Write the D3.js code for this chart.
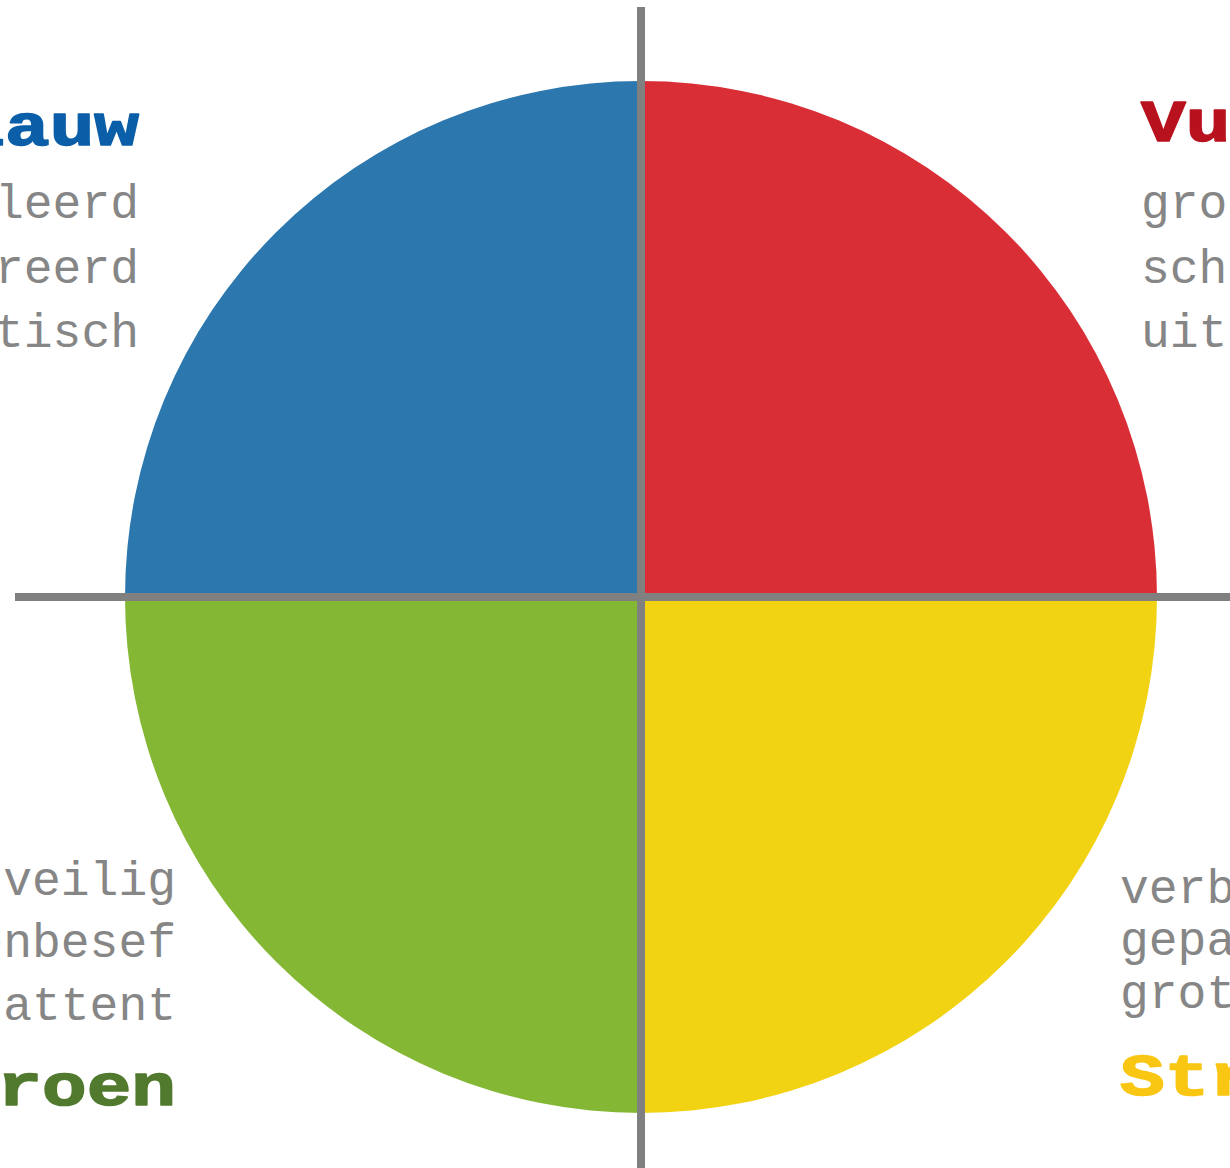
<!DOCTYPE html>
<html>
<head>
<meta charset="utf-8">
<script src="https://cdn.jsdelivr.net/npm/d3@7"></script>
<style>
  html, body { margin: 0; padding: 0; background: #fff; overflow: hidden; }
  svg { display: block; }
</style>
</head>
<body>
<svg id="chart" width="1230" height="1168"></svg>
<script>
// ---- data ----
const categories = ["Vuurrood", "Stralend geel", "Aardegroen", "Koel blauw"];
const values = [1, 1, 1, 1];
const titles = ["Vuurrood", "Stralend", "Groen", "Blauw"];
const traitsRed = ["grootse doelen", "scherp", "uitdagend"];
const traitsYellow = ["verbindend", "gepassioneerd", "grote plannen"];
const traitsGreen = ["veilig", "normenbesef", "attent"];
const traitsBlue = ["gedetailleerd", "gestructureerd", "analytisch"];

// ---- styling / layout ----
const fills = ["#da2e37", "#f2d314", "#84b734", "#2b77ae"];
const titleColors = ["#b8121e", "#f9c613", "#527a2e", "#0b5ea8"];
const W = 1230, H = 1168;
const cx = 641, cy = 597, R = 516;

const svg = d3.select("#chart");
const g = svg.append("g").attr("transform", `translate(${cx},${cy})`);

const pie = d3.pie().sort(null).startAngle(0).endAngle(2 * Math.PI);
const arc = d3.arc().innerRadius(0).outerRadius(R);

g.selectAll("path.slice")
  .data(pie(values))
  .join("path")
  .attr("class", "slice")
  .attr("d", arc)
  .attr("fill", (d, i) => fills[i]);

// axes cross
const x = d3.scaleLinear().domain([-1, 1]).range([-626, 626]);
const y = d3.scaleLinear().domain([-1, 1]).range([-590, 600]);
g.append("line").attr("x1", x(-1)).attr("x2", x(1)).attr("y1", 0).attr("y2", 0)
  .attr("stroke", "#808080").attr("stroke-width", 8);
g.append("line").attr("x1", 0).attr("x2", 0).attr("y1", y(-1)).attr("y2", y(1))
  .attr("stroke", "#808080").attr("stroke-width", 8);

// labels
const font = "'Courier New', 'Liberation Mono', monospace";
const groups = [
  { traits: traitsRed,    anchor: "start", x: 1141, titleY: 141, lineY: [218, 283, 347] },
  { traits: traitsYellow, anchor: "start", x: 1120, titleY: 1095, lineY: [903, 955, 1008] },
  { traits: traitsGreen,  anchor: "end",   x: 176,  titleY: 1105, lineY: [895, 957, 1020] },
  { traits: traitsBlue,   anchor: "end",   x: 139,  titleY: 145, lineY: [218, 283, 347] }
];

groups.forEach((grp, i) => {
  const lg = svg.append("g").attr("class", "label-" + i);
  lg.append("g")
    .attr("transform", `translate(${grp.x},${grp.titleY}) scale(1.24,1)`)
    .append("text")
    .attr("x", 0).attr("y", 0)
    .attr("text-anchor", grp.anchor)
    .attr("font-family", font)
    .attr("font-weight", "bold")
    .attr("font-size", 60)
    .attr("fill", titleColors[i])
    .attr("stroke", titleColors[i])
    .attr("stroke-width", 1.6)
    .attr("stroke-linejoin", "round")
    .text(titles[i]);
  lg.selectAll("text.trait")
    .data(grp.traits)
    .join("text")
    .attr("class", "trait")
    .attr("x", grp.x)
    .attr("y", (d, j) => grp.lineY[j])
    .attr("text-anchor", grp.anchor)
    .attr("font-family", font)
    .attr("font-size", 48)
    .attr("fill", "#868686")
    .text(d => d);
});
</script>
</body>
</html>
